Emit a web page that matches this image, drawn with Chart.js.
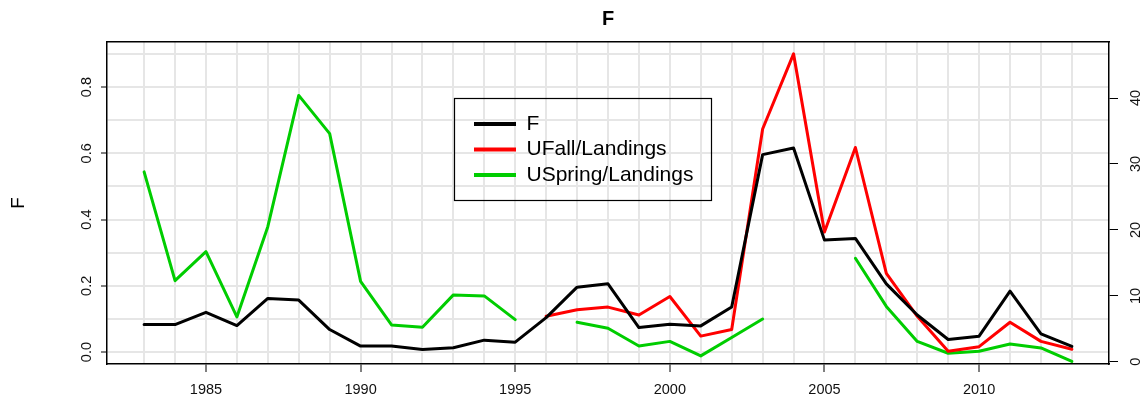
<!DOCTYPE html>
<html>
<head>
<meta charset="utf-8">
<script src="https://cdn.jsdelivr.net/npm/chart.js@4/dist/chart.umd.min.js"></script>
<style>
  html, body { margin: 0; padding: 0; background: #fff; }
  canvas { display: block; }
</style>
</head>
<body>
<canvas id="chart" width="1145" height="403"></canvas>
<script>
// data
const years = [1983, 1984, 1985, 1986, 1987, 1988, 1989, 1990, 1991, 1992, 1993, 1994, 1995,
  1996, 1997, 1998, 1999, 2000, 2001, 2002, 2003, 2004, 2005, 2006, 2007, 2008, 2009, 2010,
  2011, 2012, 2013];

// F (left axis)
const fValues = [0.083, 0.083, 0.12, 0.08, 0.162, 0.157, 0.068, 0.018, 0.018, 0.008, 0.013, 0.036, 0.030,
  0.104, 0.196, 0.206, 0.074, 0.084, 0.079, 0.136, 0.596, 0.616, 0.338, 0.343, 0.206, 0.112, 0.038, 0.048,
  0.184, 0.055, 0.017];

// UFall/Landings (right axis)
const fallValues = [null, null, null, null, null, null, null, null, null, null, null, null, null,
  6.9, 7.9, 8.3, 7.1, 9.9, 3.9, 4.9, 35.3, 46.7, 19.7, 32.5, 13.4, 6.9, 1.6, 2.3,
  6.0, 3.1, 1.9];

// USpring/Landings (right axis)
const springValues = [28.8, 12.3, 16.7, 6.8, 20.5, 40.4, 34.6, 12.2, 5.6, 5.25, 10.15, 10.0, 6.4,
  null, 6.0, 5.1, 2.4, 3.1, 0.9, 3.7, 6.5, null, null, 15.7, 8.4, 3.1, 1.3, 1.6,
  2.7, 2.1, 0.05];

const xLabelYears = [1985, 1990, 1995, 2000, 2005, 2010];
const leftGrid = [0, 0.1, 0.2, 0.3, 0.4, 0.5, 0.6, 0.7, 0.8, 0.9];
const leftTicks = [0, 0.2, 0.4, 0.6, 0.8];
const rightTicks = [0, 10, 20, 30, 40];

const GRID = '#e6e6e6';
Chart.defaults.font.family = "'Liberation Sans', Arial, sans-serif";
Chart.defaults.color = '#111';

const toPoints = vals => years.map((yr, i) => ({ x: yr, y: vals[i] }));
const isLeftTick = v => leftTicks.some(t => Math.abs(t - v) < 1e-9);

// legend sits inside the plot with a box round it
const legendBox = {
  id: 'legendBox',
  afterLayout(chart) {
    const lg = chart.legend;
    lg.left = 469.5;
    lg.top = 109;
    lg.right = lg.left + 260;
    lg.bottom = lg.top + 100;
  },
  afterDraw(chart) {
    const c = chart.ctx;
    c.save();
    c.strokeStyle = '#000';
    c.lineWidth = 1.2;
    c.strokeRect(454.5, 98.5, 257, 102);
    c.restore();
  }
};

function series(label, vals, color, axis) {
  return {
    label: label,
    data: toPoints(vals),
    borderColor: color,
    backgroundColor: color,
    pointBorderColor: color,
    pointBorderWidth: 4,
    xAxisID: 'x',
    yAxisID: axis
  };
}

new Chart(document.getElementById('chart').getContext('2d'), {
  type: 'line',
  data: {
    datasets: [
      series('F', fValues, '#000000', 'y'),
      series('UFall/Landings', fallValues, '#ff0000', 'y2'),
      series('USpring/Landings', springValues, '#00cd00', 'y2')
    ]
  },
  options: {
    responsive: false,
    animation: false,
    devicePixelRatio: 1,
    layout: { padding: 0 },
    elements: {
      line: { borderWidth: 3, tension: 0, borderJoinStyle: 'round', borderCapStyle: 'round' },
      point: { radius: 0, hoverRadius: 0 }
    },
    scales: {
      x: {
        type: 'linear', position: 'bottom', min: 1981.8, max: 2014.2,
        afterBuildTicks: s => { s.ticks = years.map(v => ({ value: v })); },
        afterFit: s => { s.height = 39; },
        ticks: {
          autoSkip: false, maxRotation: 0, padding: 9, font: { size: 14.5 },
          callback: v => xLabelYears.includes(v) ? String(v) : ''
        },
        grid: {
          color: GRID, lineWidth: 2, tickLength: 8, tickWidth: 1,
          tickColor: c => xLabelYears.includes(c.tick && c.tick.value) ? '#000' : 'rgba(0,0,0,0)'
        },
        border: { color: '#000', width: 1.5 }
      },
      xTop: {
        type: 'linear', position: 'top', min: 0, max: 1,
        afterFit: s => { s.height = 42; },
        ticks: { display: false },
        grid: { display: false, drawTicks: false },
        border: { display: true, color: '#000', width: 1.5 },
        title: { display: true, text: 'F', color: '#000', font: { size: 20, weight: 'bold' }, padding: { top: 7, bottom: 0 } }
      },
      y: {
        type: 'linear', position: 'left', min: -0.036, max: 0.936,
        afterBuildTicks: s => { s.ticks = leftGrid.map(v => ({ value: v })); },
        afterFit: s => { s.width = 107; },
        ticks: {
          minRotation: 90, maxRotation: 90, crossAlign: 'center', padding: 4, font: { size: 14.5 },
          callback: v => isLeftTick(v) ? v.toFixed(1) : ''
        },
        grid: {
          color: GRID, lineWidth: 2, tickLength: 6, tickWidth: 1,
          tickColor: c => (c.tick && isLeftTick(c.tick.value)) ? '#000' : 'rgba(0,0,0,0)'
        },
        border: { color: '#000', width: 1.5 },
        title: { display: true, text: 'F', color: '#000', font: { size: 19 }, padding: { top: 7, bottom: 0 } }
      },
      y2: {
        type: 'linear', position: 'right', min: -0.33, max: 48.5,
        afterBuildTicks: s => { s.ticks = rightTicks.map(v => ({ value: v })); },
        afterFit: s => { s.width = 36; },
        ticks: {
          minRotation: 90, maxRotation: 90, crossAlign: 'center', padding: 10, font: { size: 14.5 },
          callback: v => String(v)
        },
        grid: { drawOnChartArea: false, tickLength: 9, tickWidth: 1, tickColor: '#000' },
        border: { color: '#000', width: 1.5 }
      }
    },
    plugins: {
      title: { display: false },
      tooltip: { enabled: false },
      legend: {
        position: 'chartArea',
        align: 'start',
        labels: {
          usePointStyle: true, pointStyle: 'line', pointStyleWidth: 42, boxHeight: 21,
          padding: 4.5, color: '#000', font: { size: 21 }
        }
      }
    }
  },
  plugins: [legendBox]
});
</script>
</body>
</html>
